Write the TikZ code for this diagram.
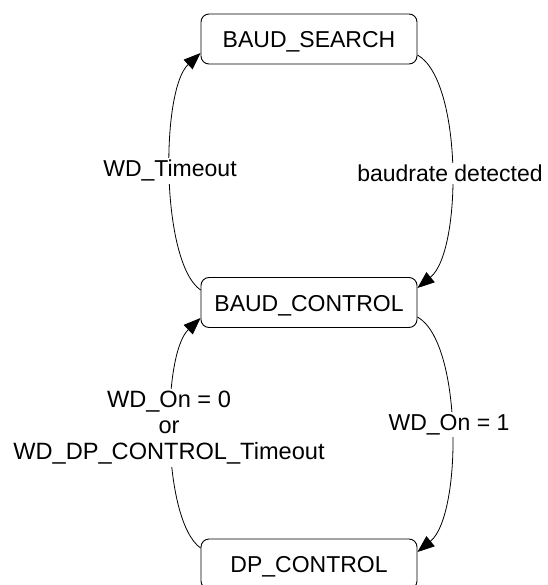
\documentclass[tikz,border=0pt]{standalone}
\usepackage{fontspec}
\setmainfont{Liberation Sans}
\usetikzlibrary{arrows.meta,calc}
\begin{document}
\begin{tikzpicture}[x=1pt,y=-1pt,
  font=\fontsize{23}{26}\selectfont,
  state/.style={draw, rounded corners=8pt, minimum width=216pt, minimum height=50pt,
    text height=20pt, text depth=3pt, inner sep=0pt, line width=0.9pt},
  trans/.style={line width=0.8pt, -{Triangle[length=17pt,width=13pt]}},
  lbl/.style={fill=white, inner sep=2pt, align=center}]
\useasboundingbox (0,0) rectangle (547,585);
\clip (0,0) rectangle (547,585);
\node[state] (bs) at (309,39) {BAUD\_SEARCH};
\node[state] (bc) at (309,302.5) {BAUD\_CONTROL};
\node[state] (dp) at (309,564) {DP\_CONTROL};

\draw[trans] ($(bc.west)+(0,-12.5)$) .. controls +(-40,-28) and +(-40,37) .. ($(bs.west)+(0,14)$);
\draw[trans] ($(bs.east)+(0,16)$) .. controls +(45,25) and +(45,-37) .. ($(bc.east)+(0,-14.5)$);
\draw[trans] ($(dp.west)+(0,-16)$) .. controls +(-39,-28) and +(-39,37) .. ($(bc.west)+(0,15.5)$);
\draw[trans] ($(bc.east)+(0,14.5)$) .. controls +(45,25) and +(45,-37) .. ($(dp.east)+(0,-12)$);

\node[lbl, anchor=base] (l1) at (170,177) {WD\_Timeout};
\node[lbl, anchor=base] (l2) at (450,182) {baudrate detected};
\node[lbl, font=\fontsize{23.6}{26}\selectfont] (l3) at (169,428) {WD\_On = 0\\or\\WD\_DP\_CONTROL\_Timeout};
\node[lbl, anchor=base] (l4) at (449,430) {WD\_On = 1};
\end{tikzpicture}
\end{document}
